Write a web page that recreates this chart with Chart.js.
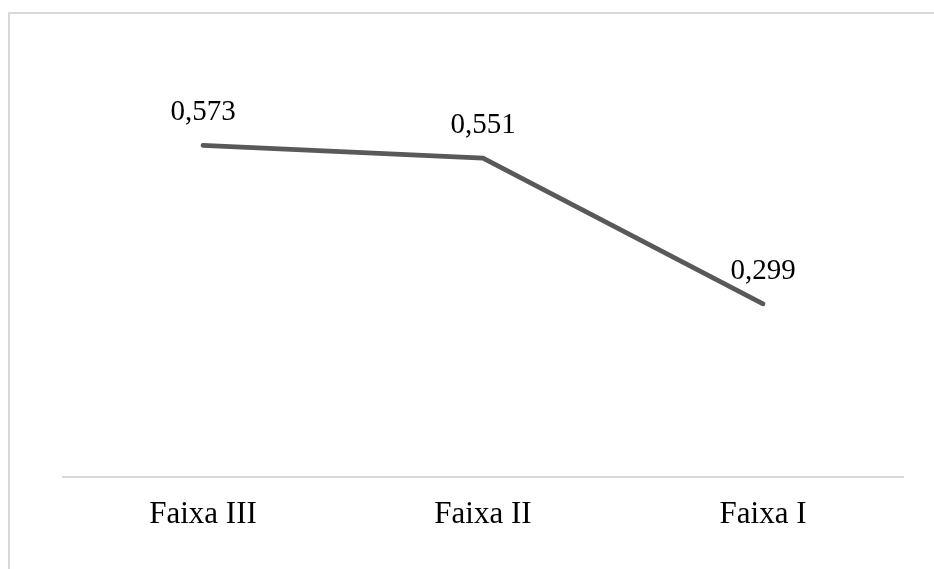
<!DOCTYPE html>
<html>
<head>
<meta charset="utf-8">
<script src="https://cdn.jsdelivr.net/npm/chart.js@4/dist/chart.umd.min.js"></script>
<style>
  html, body { margin: 0; padding: 0; background: #ffffff; }
  #wrap { width: 934px; height: 569px; position: relative; }
</style>
</head>
<body>
<div id="wrap"><canvas id="c" width="934" height="569"></canvas></div>
<script>
// Categories and values
const categories = ['Faixa III', 'Faixa II', 'Faixa I'];
const values = [0.573, 0.551, 0.299];
const valueLabels = ['0,573', '0,551', '0,299'];

const serif = '"Liberation Serif", "Times New Roman", serif';

// Light frame around the chart area (top and left edges visible)
const framePlugin = {
  id: 'frame',
  beforeDraw(chart) {
    const ctx = chart.ctx;
    ctx.save();
    ctx.fillStyle = '#ffffff';
    ctx.fillRect(0, 0, chart.width, chart.height);
    ctx.strokeStyle = '#d9d9d9';
    ctx.lineWidth = 2;
    ctx.beginPath();
    ctx.moveTo(9, chart.height + 5);
    ctx.lineTo(9, 13);
    ctx.lineTo(chart.width + 5, 13);
    ctx.stroke();
    ctx.restore();
  }
};

// Value labels above each point
const valueLabelPlugin = {
  id: 'valueLabels',
  afterDatasetsDraw(chart) {
    const ctx = chart.ctx;
    const meta = chart.getDatasetMeta(0);
    ctx.save();
    ctx.font = '29px ' + serif;
    ctx.fillStyle = '#000000';
    ctx.textAlign = 'center';
    ctx.textBaseline = 'alphabetic';
    meta.data.forEach((pt, i) => {
      ctx.fillText(valueLabels[i], pt.x, pt.y - 25);
    });
    ctx.restore();
  }
};

new Chart(document.getElementById('c'), {
  type: 'line',
  data: {
    labels: categories,
    datasets: [{
      data: values,
      borderColor: '#595959',
      borderWidth: 4.75,
      borderCapStyle: 'round',
      borderJoinStyle: 'miter',
      pointRadius: 0,
      pointHoverRadius: 0,
      fill: false,
      tension: 0
    }]
  },
  options: {
    responsive: false,
    animation: false,
    devicePixelRatio: 1,
    layout: { padding: { left: 63, right: 31, top: 72, bottom: 25 } },
    plugins: {
      legend: { display: false },
      tooltip: { enabled: false }
    },
    scales: {
      x: {
        offset: true,
        grid: { display: false },
        border: { display: true, color: '#d9d9d9', width: 2 },
        ticks: {
          color: '#000000',
          padding: 11,
          font: { family: serif, size: 31 }
        }
      },
      y: {
        display: false,
        min: 0,
        max: 0.7
      }
    }
  },
  plugins: [framePlugin, valueLabelPlugin]
});
</script>
</body>
</html>
